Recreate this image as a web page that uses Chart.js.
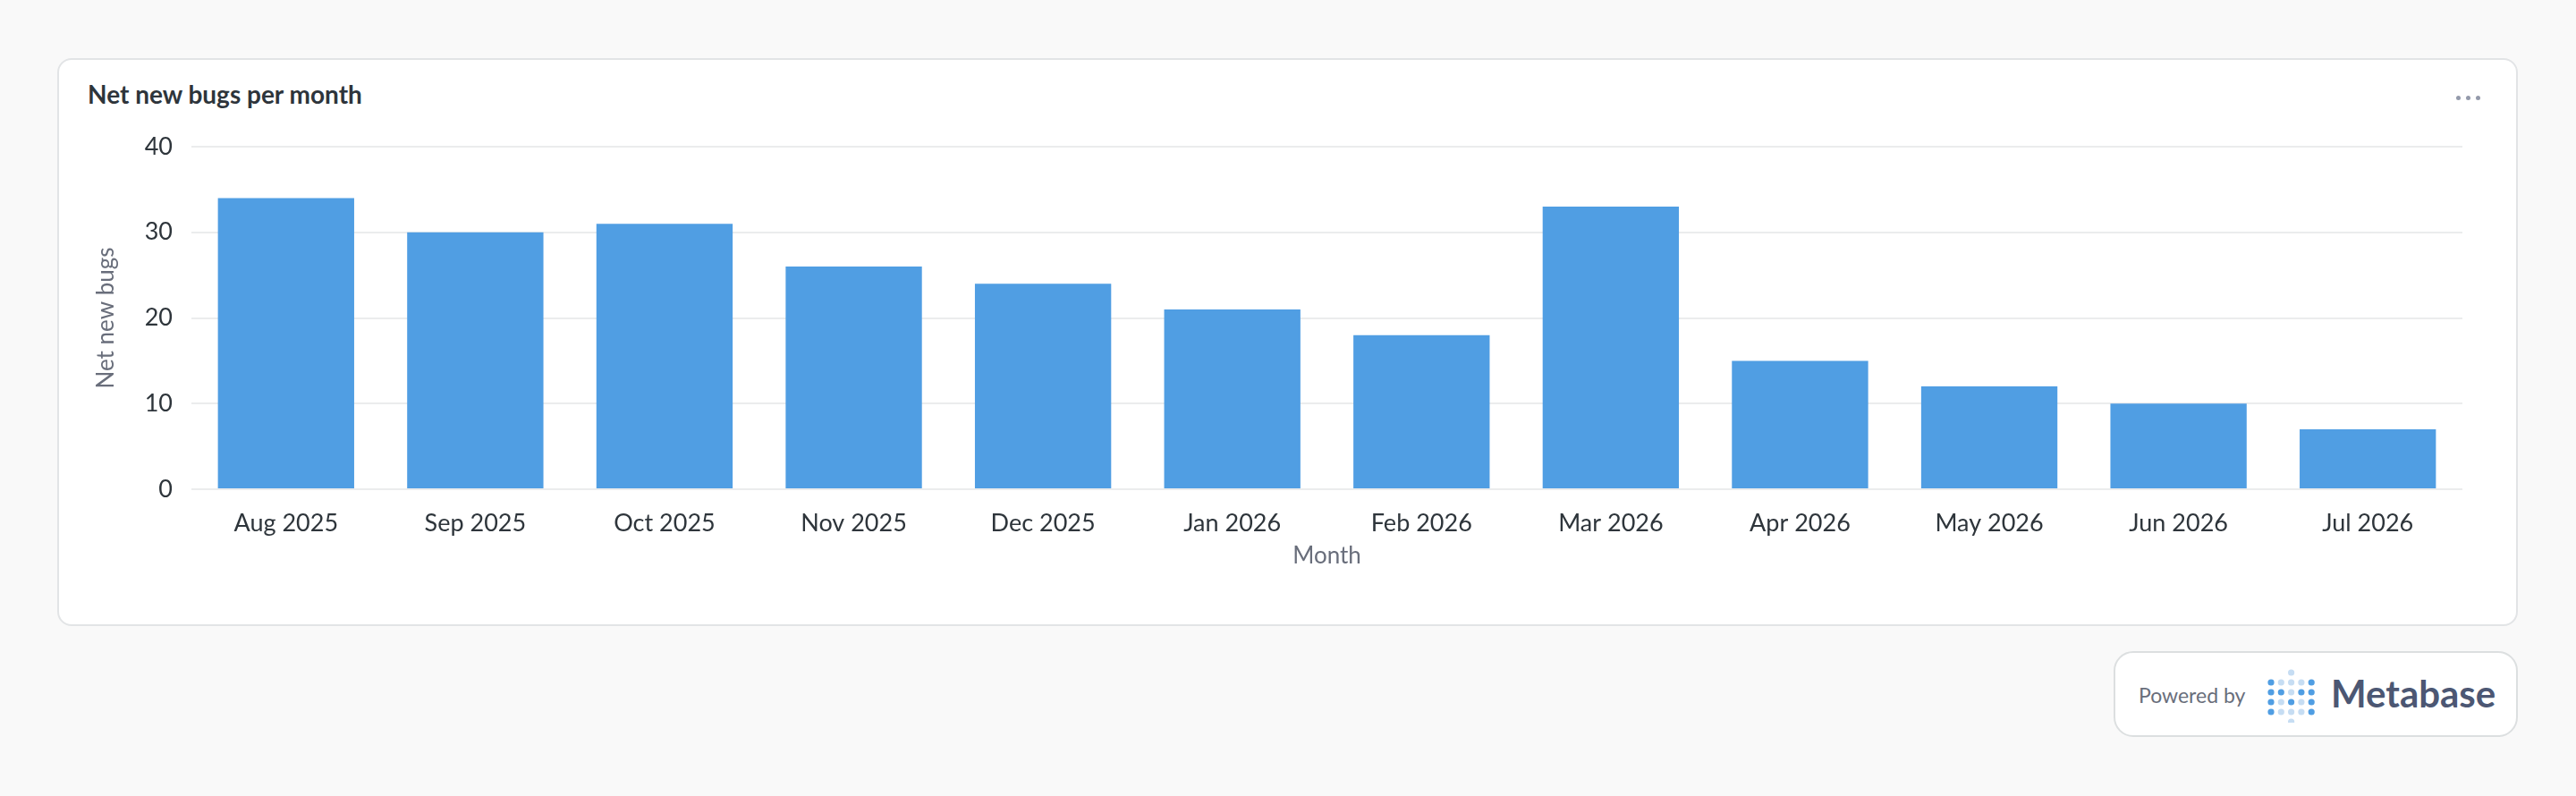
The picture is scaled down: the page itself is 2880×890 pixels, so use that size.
<!DOCTYPE html>
<html>
<head>
<meta charset="utf-8">
<script src="https://cdn.jsdelivr.net/npm/chart.js@4"></script>
<style>
  html, body { margin: 0; padding: 0; background: #f9f9f9; }
  body { width: 2880px; height: 890px; position: relative; font-family: Lato, sans-serif; overflow: hidden; }
  .card {
    position: absolute; left: 64px; top: 65px; width: 2747px; height: 631px;
    background: #fff; border: 2px solid #e2e4e6; border-radius: 16px;
  }
  .title {
    position: absolute; left: 32px; top: 22px;
    font-size: 28px; font-weight: 700; color: #2e353b; line-height: 1.2;
  }
  .dots { position: absolute; right: 40px; top: 40px; display: flex; gap: 6px; }
  .dots span { width: 5px; height: 5px; border-radius: 50%; background: #949aab; }
  .chart-box { position: absolute; left: 0; top: 73px; width: 2747px; height: 507px; }
  .badge {
    position: absolute; left: 2363px; top: 728px; width: 448px; height: 92px;
    background: #fff; border: 2px solid #dcdfe0; border-radius: 22px;
  }
  .badge .pb { position: absolute; left: 26px; top: 33px; font-size: 23px; color: #696e7b; }
  .badge svg { position: absolute; left: 168px; top: 16px; }
  .badge .mb { position: absolute; left: 241px; top: 20px; font-size: 42px; font-weight: 700; color: #4c5773; }
</style>
</head>
<body>
<div class="card">
  <div class="title">Net new bugs per month</div>
  <div class="dots"><span></span><span></span><span></span></div>
  <div class="chart-box"><canvas id="chart"></canvas></div>
</div>
<div class="badge">
  <span class="pb">Powered by</span>
  <svg id="logo" width="60" height="62"></svg>
  <span class="mb">Metabase</span>
</div>
<script>
const months = ['Aug 2025', 'Sep 2025', 'Oct 2025', 'Nov 2025', 'Dec 2025', 'Jan 2026',
  'Feb 2026', 'Mar 2026', 'Apr 2026', 'May 2026', 'Jun 2026', 'Jul 2026'];
const netNewBugs = [34, 30, 31, 26, 24, 21, 18, 33, 15, 12, 10, 7];
const yTicks = [0, 10, 20, 30, 40];

// metabase logo dots (1 = dark, 0 = light, null = none)
const logoRows = [
  [null, null, 0, null, null],
  [1, 0, 0, 0, 1],
  [1, 1, 0, 1, 1],
  [1, 0, 1, 0, 1],
  [1, 0, 0, 0, 1],
  [null, null, 0, null, null],
];
const svg = document.getElementById('logo');
logoRows.forEach((row, r) => row.forEach((v, c) => {
  if (v === null) return;
  const dot = document.createElementNS('http://www.w3.org/2000/svg', 'circle');
  dot.setAttribute('cx', 6 + c * 11.3);
  dot.setAttribute('cy', 6 + r * 11);
  dot.setAttribute('r', 3.6);
  dot.setAttribute('fill', v ? '#509ee3' : '#c6ddf3');
  svg.appendChild(dot);
}));

const textDark = '#2e353b';
const textMuted = '#696e7b';

new Chart(document.getElementById('chart'), {
  type: 'bar',
  data: {
    labels: months,
    datasets: [{
      label: 'Net new bugs',
      data: netNewBugs,
      backgroundColor: '#509ee3',
      barPercentage: 0.72,
      categoryPercentage: 1,
    }],
  },
  options: {
    responsive: true,
    maintainAspectRatio: false,
    animation: false,
    layout: { padding: { top: 24, right: 60, bottom: 0, left: 0 } },
    plugins: { legend: { display: false }, tooltip: { enabled: false } },
    scales: {
      x: {
        grid: { display: false },
        border: { display: false },
        ticks: { color: textDark, font: { family: 'Lato', size: 27 }, padding: 14, maxRotation: 0 },
        title: { display: true, text: 'Month', color: textMuted, font: { family: 'Lato', size: 26 }, padding: { top: 0, bottom: 10 } },
        afterFit: (scale) => { scale.height = 100; },
      },
      y: {
        min: 0,
        max: 40,
        afterBuildTicks: (scale) => { scale.ticks = yTicks.map((v) => ({ value: v })); },
        grid: { color: '#ebeced', lineWidth: 2, drawTicks: false },
        border: { display: false },
        ticks: { color: textDark, font: { family: 'Lato', size: 27 }, padding: 21 },
        title: { display: true, text: 'Net new bugs', color: textMuted, font: { family: 'Lato', size: 26 }, padding: { top: 37, bottom: 0 } },
        afterFit: (scale) => {
          scale.width = 148;
          // let layout padding decide the top, not the tick label overhang
          scale.paddingTop = 0;
          scale.paddingBottom = 0;
        },
      },
    },
  },
});
</script>
</body>
</html>
